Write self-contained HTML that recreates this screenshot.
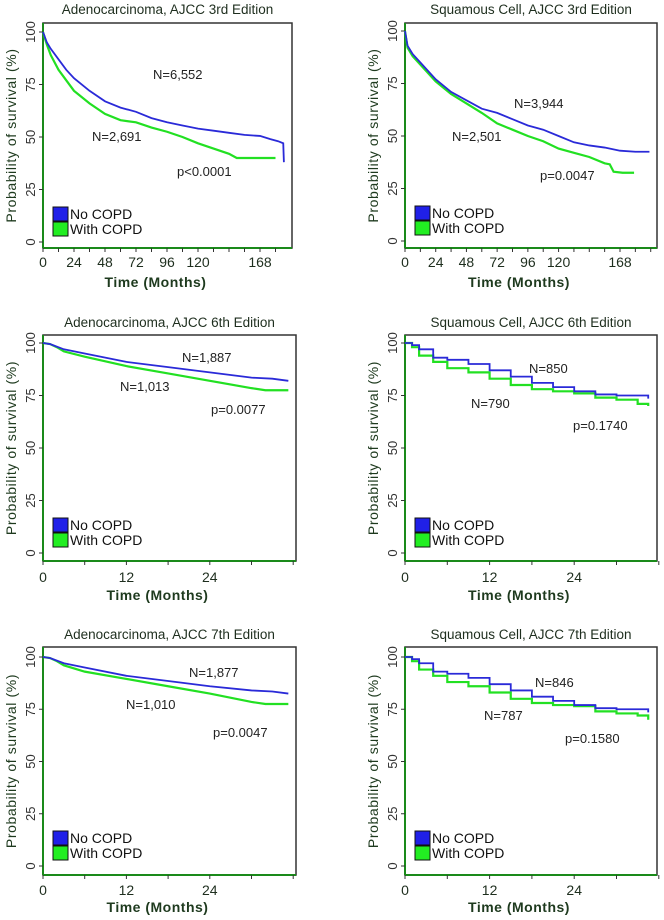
<!DOCTYPE html>
<html><head><meta charset="utf-8">
<style>
html,body{margin:0;padding:0;background:#fff;}
svg{display:block;font-family:"Liberation Sans",sans-serif;}
</style></head>
<body>
<svg id="fig" width="664" height="920" viewBox="0 0 664 920"></svg>
<script>
// ---- data (months, survival %) ----
const p1BlueT=[0,3,6,12,18,24,36,48,60,72,84,96,108,120,132,144,156,168,176,182,186,186.5];
const p1BlueS=[100,95,92,87,82,78,72,67,64,62,59,57,55.5,54,53,52,51,50.5,49,48,47,38];
const p1GreenT=[0,3,6,12,18,24,36,48,60,72,84,96,108,120,132,144,150,160,170,180];
const p1GreenS=[100,94,89,82,77,72,66,61,58,57,54.5,52.5,50,47,44.5,42,40,40,40,40];
const p2BlueT=[0,2,6,12,24,36,48,60,72,84,96,108,120,132,144,156,168,180,191];
const p2BlueS=[100,93,89,85,77,71,67,63,61,58,55,53,50,47,45.5,44.5,43,42.5,42.5];
const p2GreenT=[0,2,6,12,24,36,48,60,72,84,96,108,120,132,144,156,160,163,170,179];
const p2GreenS=[100,92,88,84,76,70,65.5,61,56,53,50,47.5,44,42,40,37,36.5,33,32.5,32.5];
const p3BlueT=[0,1,3,6,12,18,24,30,33,35.3];
const p3BlueS=[100,99.5,97,95,91,88.5,86,83.5,83,82];
const p3GreenT=[0,1,2,3,6,12,18,24,30,32,35.3];
const p3GreenS=[100,99.5,98,96,93.5,89,85.5,82,78.5,77.5,77.5];
const p4BlueT=[0,1,2,4,6,9,12,15,18,21,24,27,30,33,34.5];
const p4BlueS=[100,99,97,93,92,90,87,84,81,79,77,75.5,75,75,73.5];
const p4GreenT=[0,1,2,4,6,9,12,15,18,21,24,27,30,33,34.5];
const p4GreenS=[100,98,94,91,88,86,83,80,78,77,76,74,73,71,70];
const p5BlueT=[0,1,3,6,12,18,24,30,33,35.3];
const p5BlueS=[100,99.5,97,95,91,88.5,86,84,83.5,82.5];
const p5GreenT=[0,1,2,3,6,12,18,24,30,32,35.3];
const p5GreenS=[100,99.5,98,96,93,89.5,86,82.5,78.5,77.5,77.5];
const p6BlueT=[0,1,2,4,6,9,12,15,18,21,24,27,30,33,34.5];
const p6BlueS=[100,99,97,93,92,90,87,84,81,79,77,75.5,75,75,73.5];
const p6GreenT=[0,1,2,4,6,9,12,15,18,21,24,27,30,33,34.5];
const p6GreenS=[100,98,94,91,88,86,83,80,78,77,76.5,74,73,72,70];
const yTicks=[0,25,50,75,100];
const xTicksLong=[0,24,48,72,96,120,168];
const xTicksShort=[0,12,24];
const titles=["Adenocarcinoma, AJCC 3rd Edition","Squamous Cell, AJCC 3rd Edition","Adenocarcinoma, AJCC 6th Edition","Squamous Cell, AJCC 6th Edition","Adenocarcinoma, AJCC 7th Edition","Squamous Cell, AJCC 7th Edition"];
const nBlue=["N=6,552","N=3,944","N=1,887","N=850","N=1,877","N=846"];
const nGreen=["N=2,691","N=2,501","N=1,013","N=790","N=1,010","N=787"];
const pVals=["p<0.0001","p=0.0047","p=0.0077","p=0.1740","p=0.0047","p=0.1580"];

const NS="http://www.w3.org/2000/svg";
const svg=document.getElementById('fig');
function mk(tag,attrs,parent,text){const e=document.createElementNS(NS,tag);for(const k in attrs)e.setAttribute(k,attrs[k]);if(text!==undefined)e.textContent=text;(parent||svg).appendChild(e);return e;}

const panels=[
 {L:43,T:23,R:292,B:248,y100:32,y0:242,pm:217/168,ticks:xTicksLong,minor:12,max:190,bt:p1BlueT,bs:p1BlueS,gt:p1GreenT,gs:p1GreenS,nb:[153,79],ng:[92,141],pv:[177,176],tl:262,xl:283,ty:14,step:false},
 {L:405,T:23,R:657,B:248,y100:31,y0:241,pm:215/168,ticks:xTicksLong,minor:12,max:196,bt:p2BlueT,bs:p2BlueS,gt:p2GreenT,gs:p2GreenS,nb:[514,108],ng:[452,141],pv:[540,180],tl:262,xl:283,ty:14,step:false},
 {L:43,T:335,R:296,B:561,y100:343,y0:553,pm:6.95,ticks:xTicksShort,minor:6,max:36,bt:p3BlueT,bs:p3BlueS,gt:p3GreenT,gs:p3GreenS,nb:[182,362],ng:[120,391],pv:[211,414],tl:577,xl:596,ty:327,step:false},
 {L:405,T:335,R:657,B:561,y100:343,y0:553,pm:7.05,ticks:xTicksShort,minor:6,max:36,bt:p4BlueT,bs:p4BlueS,gt:p4GreenT,gs:p4GreenS,nb:[529,373],ng:[471,408],pv:[573,430],tl:577,xl:596,ty:327,step:true},
 {L:43,T:647,R:296,B:875,y100:657,y0:866,pm:6.95,ticks:xTicksShort,minor:6,max:36,bt:p5BlueT,bs:p5BlueS,gt:p5GreenT,gs:p5GreenS,nb:[189,677],ng:[126,709],pv:[213,737],tl:890,xl:908,ty:639,step:false},
 {L:405,T:647,R:657,B:875,y100:657,y0:866,pm:7.05,ticks:xTicksShort,minor:6,max:36,bt:p6BlueT,bs:p6BlueS,gt:p6GreenT,gs:p6GreenS,nb:[535,687],ng:[484,720],pv:[565,743],tl:890,xl:908,ty:639,step:true}
];

panels.forEach((p,i)=>{
 const g=mk('g',{});
 
 
 const xs=t=>p.L+t*p.pm;
 const ys=v=>p.y0-(v/100)*(p.y0-p.y100);
 const t=mk('text',{x:(p.L+p.R)/2,y:p.ty,'text-anchor':'middle','font-size':13.5,fill:'#1e2e1e'},g,titles[i]);
 
 
 const box=mk('rect',{x:p.L,y:p.T,width:p.R-p.L,height:p.B-p.T,fill:'none',stroke:'#333','stroke-width':1.5},g);
 
 
 mk('line',{x1:p.L,y1:p.T,x2:p.L,y2:p.B,stroke:'#1a8a1a','stroke-width':2},g);
 mk('line',{x1:p.L,y1:p.B,x2:p.R,y2:p.B,stroke:'#1a8a1a','stroke-width':2},g);
 yTicks.forEach(v=>{
  mk('line',{x1:p.L-4,y1:ys(v),x2:p.L,y2:ys(v),stroke:'#333'},g);
  const lb=mk('text',{x:p.L-8,y:ys(v),'text-anchor':'middle','font-size':13,fill:'#333',transform:`rotate(-90 ${p.L-8} ${ys(v)})`},g,String(v));
  
  
 });
 for(let m=0;m<=p.max;m+=p.minor){mk('line',{x1:xs(m),y1:p.B,x2:xs(m),y2:p.B+4,stroke:'#333'},g);}
 p.ticks.forEach(m=>{
  const lb=mk('text',{x:xs(m),y:p.tl+5,'text-anchor':'middle','font-size':14,fill:'#1e2e1e'},g,String(m));
  
  
 });
 const xt=mk('text',{x:(p.L+p.R)/2-12,y:p.xl+4,'text-anchor':'middle','font-size':14,'font-weight':'bold',fill:'#1e3a1e','letter-spacing':'0.5'},g,'Time (Months)');
 
 
 const yc=(p.T+p.B)/2, yx=p.L-27;
 const yt=mk('text',{x:yx,y:yc,'text-anchor':'middle','font-size':14,fill:'#1e3a1e','letter-spacing':'0.6',transform:`rotate(-90 ${yx} ${yc})`},g,'Probability of survival (%)');
 
 
 function path(T,S){let d=`M${xs(T[0])},${ys(S[0])}`;for(let k=1;k<T.length;k++){d+=p.step?` H${xs(T[k])} V${ys(S[k])}`:` L${xs(T[k])},${ys(S[k])}`;}return d;}
 const gl=mk('path',{d:path(p.gt,p.gs),fill:'none',stroke:'#22e022','stroke-width':2.2},g);
 
 
 const bl=mk('path',{d:path(p.bt,p.bs),fill:'none',stroke:'#2a2ad8','stroke-width':1.8},g);
 
 
 const a1=mk('text',{x:p.nb[0],y:p.nb[1],'font-size':13,fill:'#222'},g,nBlue[i]);
 
 
 const a2=mk('text',{x:p.ng[0],y:p.ng[1],'font-size':13,fill:'#222'},g,nGreen[i]);
 
 
 const a3=mk('text',{x:p.pv[0],y:p.pv[1],'font-size':13,fill:'#222'},g,pVals[i]);
 
 
 const lx=p.L+10, ly=p.y0-35;
 const le1=mk('g',{},g);
 
 
 mk('rect',{x:lx,y:ly,width:15,height:14,fill:'#2020e8',stroke:'#111','stroke-width':1},le1);
 mk('text',{x:lx+17,y:ly+12,'font-size':14,fill:'#111'},le1,'No COPD');
 const le2=mk('g',{},g);
 
 
 mk('rect',{x:lx,y:ly+15,width:15,height:14,fill:'#22ee22',stroke:'#111','stroke-width':1},le2);
 mk('text',{x:lx+17,y:ly+27,'font-size':14,fill:'#111'},le2,'With COPD');
});
</script>
</body></html>
